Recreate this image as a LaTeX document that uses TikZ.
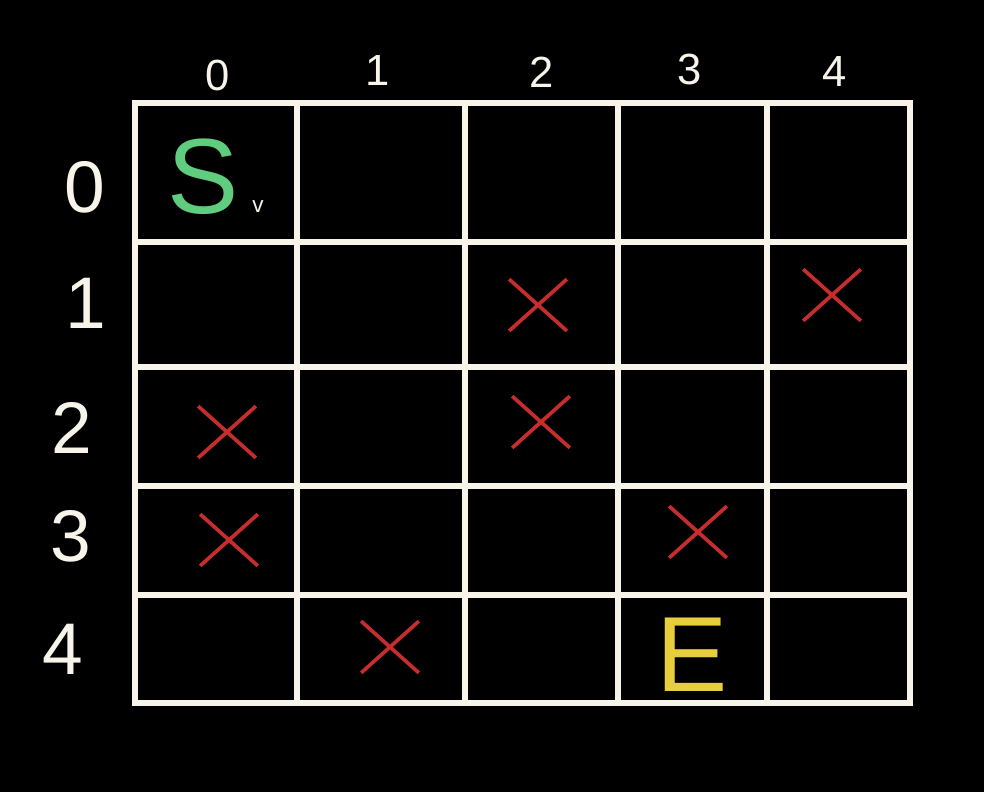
\documentclass[tikz,border=0pt]{standalone}
\usepackage{fontspec}
\setmainfont{Liberation Sans}
\usetikzlibrary{shapes.misc}
\definecolor{chalk}{RGB}{248,244,234}
\definecolor{mazered}{RGB}{200,45,45}
\definecolor{startgreen}{RGB}{95,205,125}
\definecolor{endyellow}{RGB}{232,205,60}

\begin{document}
\begin{tikzpicture}[
    x=0.025cm, y=-0.025cm,
    gridline/.style={draw=chalk, line width=4pt, line cap=rect},
    colidx/.style={text=chalk, inner sep=0pt, font=\fontsize{31}{31}\selectfont},
    rowidx/.style={text=chalk, inner sep=0pt, font=\fontsize{52}{52}\selectfont},
    blocked/.style={cross out, draw=mazered, line width=2.6pt, minimum width=1.35cm, minimum height=1.2cm, inner sep=0pt},
    endpoint/.style={inner sep=0pt, font=\fontsize{76}{76}\selectfont}
]
    % Background
    \fill[black] (0,0) rectangle (984,792);
    \useasboundingbox (0,0) rectangle (984,792);

    % Grid
    \foreach \gx in {135,297,465,618,767,910}
        \draw[gridline] (\gx,103) -- (\gx,703);
    \foreach \gy in {103,242,367,486,595,703}
        \draw[gridline] (135,\gy) -- (910,\gy);

    % Indices
    \foreach \lab/\lx/\ly in {0/218/75, 1/378/70, 2/542/72, 3/690/69, 4/835/71}
        \node[colidx] (c\lab) at (\lx,\ly) {\lab};
    \foreach \lab/\lx/\ly in {0/85/187, 1/86/303, 2/72/428, 3/71/536, 4/63/649}
        \node[rowidx] (r\lab) at (\lx,\ly) {\lab};

    % Start and end
    \node[endpoint, text=startgreen] (start) at (203,177) {S};
    \node[text=chalk, inner sep=0pt, font=\fontsize{16}{16}\selectfont] (tick) at (258,207) {v};
    \node[endpoint, text=endyellow] (goal) at (692,655) {E};

    % Walls
    \node[blocked] (x12) at (538,305) {};
    \node[blocked] (x14) at (832,295) {};
    \node[blocked] (x20) at (227,432) {};
    \node[blocked] (x22) at (541,422) {};
    \node[blocked] (x30) at (229,540) {};
    \node[blocked] (x33) at (698,532) {};
    \node[blocked] (x41) at (390,647) {};
\end{tikzpicture}
\end{document}
